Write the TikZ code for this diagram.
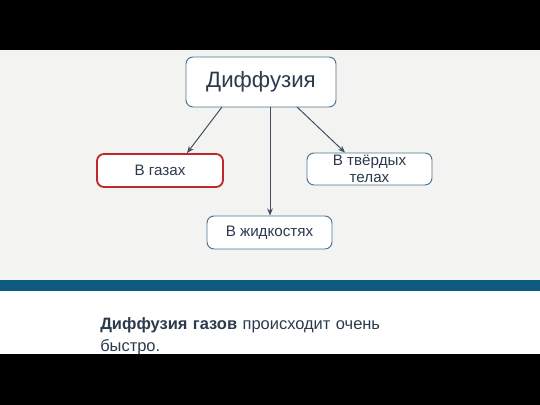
\documentclass[tikz,border=0pt]{standalone}
\usepackage{fontspec}
\setmainfont{Liberation Sans}
\usetikzlibrary{arrows.meta}
\definecolor{textcol}{HTML}{2B3A4C}
\definecolor{boxline}{HTML}{4F7593}
\definecolor{gasred}{HTML}{C0282D}
\definecolor{barblue}{HTML}{0E5A7E}
\definecolor{slidebg}{HTML}{F3F3F2}
\begin{document}
\begin{tikzpicture}[x=0.025cm, y=-0.025cm,
		box/.style={draw=boxline, fill=white, rounded corners=5pt, line width=0.7pt, text=textcol, align=center, inner sep=0pt},
		arr/.style={-{Stealth[length=5pt,width=4pt]}, draw=textcol!90, line width=0.7pt}]
				%background
				\fill[black] (0,0) rectangle (540,405);
				\fill[slidebg] (0,50) rectangle (540,280);
				\fill[barblue] (0,280) rectangle (540,291);
				\fill[white] (0,291) rectangle (540,354);
				%boxes
				\node[box, minimum width=150*0.025cm, minimum height=50*0.025cm, font=\fontsize{15.8}{18}\selectfont] (diff) at (261, 82) {Диффузия};
				\node[box, draw=gasred, line width=1.3pt, minimum width=126*0.025cm, minimum height=33*0.025cm, font=\fontsize{10.8}{13}\selectfont] (gas) at (160, 170.5) {В газах};
				\node[box, minimum width=125*0.025cm, minimum height=32*0.025cm, font=\fontsize{10.8}{12.5}\selectfont] (solid) at (369.5, 169) {В твёрдых\\телах};
				\node[box, minimum width=125*0.025cm, minimum height=33*0.025cm, font=\fontsize{10.8}{13}\selectfont] (liquid) at (269.5, 232.5) {В жидкостях};
				%arrows
				\coordinate (a1) at (222, 107);
				\coordinate (a2) at (270, 107);
				\coordinate (a3) at (297, 107);
				\draw[arr] (a1) -- (gas.north -| 187,0);
				\draw[arr] (a2) -- (liquid.north -| a2);
				\draw[arr] (a3) -- (solid.north -| 345,0);
				%text below
				\node[anchor=north west, inner sep=0pt, text width=320*0.025cm, align=left, text=textcol, font=\fontsize{11.7}{15.6}\selectfont] (note) at (100, 317) {\textbf{Диффузия газов} происходит очень быстро.};
			\end{tikzpicture}
\end{document}
